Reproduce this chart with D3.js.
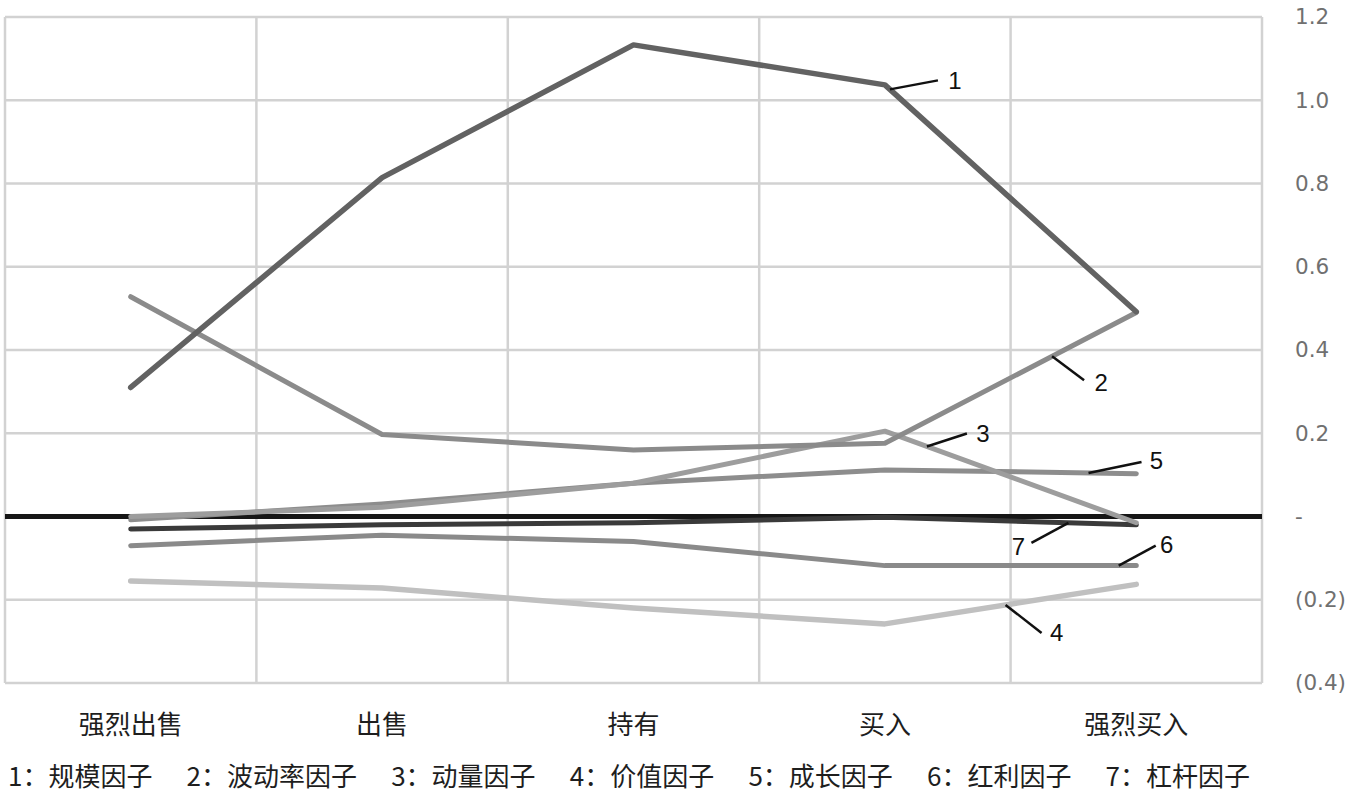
<!DOCTYPE html>
<html>
<head>
<meta charset="utf-8">
<script src="https://cdn.jsdelivr.net/npm/d3@7"></script>
<style>
  html, body { margin: 0; padding: 0; background: #ffffff; }
  svg { display: block; }
</style>
</head>
<body>
<svg id="chart" width="1352" height="792"></svg>
<script>
// ---- data ----
const categories = ["强烈出售", "出售", "持有", "买入", "强烈买入"];
const seriesNames = ["规模因子", "波动率因子", "动量因子", "价值因子", "成长因子", "红利因子", "杠杆因子"];
const sizeFactor       = [0.31, 0.814, 1.133, 1.037, 0.492];
const volatilityFactor = [0.528, 0.197, 0.160, 0.176, 0.490];
const momentumFactor   = [0.00, 0.022, 0.080, 0.205, -0.015];
const valueFactor      = [-0.155, -0.172, -0.220, -0.258, -0.163];
const growthFactor     = [-0.008, 0.030, 0.080, 0.112, 0.103];
const dividendFactor   = [-0.070, -0.045, -0.060, -0.118, -0.118];
const leverageFactor   = [-0.030, -0.020, -0.015, -0.002, -0.020];
const yTicks = [-0.4, -0.2, 0, 0.2, 0.4, 0.6, 0.8, 1.0, 1.2];

const seriesValues = [sizeFactor, volatilityFactor, momentumFactor, valueFactor, growthFactor, dividendFactor, leverageFactor];

// ---- styling ----
const colors = ["#626262", "#8b8b8b", "#9d9d9d", "#c0c0c0", "#8d8d8d", "#8a8a8a", "#3a3a3a"];
const widths = [5.5, 5, 5, 5.5, 5, 5, 5];
// annotation: series index, position along category index, leader offset, label offset
const annotations = [
  {s: 0, t: 3.02, dx: 48, dy: -9,  lx: 17, ly: 0},
  {s: 1, t: 3.665, dx: 32, dy: 24, lx: 17, ly: 2},
  {s: 2, t: 3.167, dx: 40, dy: -13, lx: 16, ly: 0},
  {s: 4, t: 3.81, dx: 53, dy: -11, lx: 15, ly: -1},
  {s: 6, t: 3.73, dx: -37, dy: 20, lx: -13, ly: 4},
  {s: 5, t: 3.93, dx: 37, dy: -20, lx: 11, ly: -1},
  {s: 3, t: 3.48, dx: 36, dy: 28, lx: 15, ly: 0}
];

const svg = d3.select("#chart");
const plotLeft = 5, plotRight = 1262, plotTop = 17, plotBottom = 683;

const x = d3.scaleBand().domain(categories).range([plotLeft, plotRight]).padding(0);
const y = d3.scaleLinear().domain([-0.4, 1.2]).range([plotBottom, plotTop]);
const cx = c => x(c) + x.bandwidth() / 2;

// gridlines
const grid = svg.append("g");
grid.selectAll("line.h").data(yTicks).join("line")
  .attr("class", "h")
  .attr("x1", plotLeft).attr("x2", plotRight)
  .attr("y1", d => y(d)).attr("y2", d => y(d))
  .attr("stroke", "#d2d2d2").attr("stroke-width", 2.5);
const vb = categories.map(c => x(c)).concat([plotRight]);
grid.selectAll("line.v").data(vb).join("line")
  .attr("class", "v")
  .attr("x1", d => d).attr("x2", d => d)
  .attr("y1", plotTop).attr("y2", plotBottom)
  .attr("stroke", "#d2d2d2").attr("stroke-width", 2.5);

// zero line
svg.append("line")
  .attr("x1", plotLeft).attr("x2", plotRight)
  .attr("y1", y(0)).attr("y2", y(0))
  .attr("stroke", "#161616").attr("stroke-width", 5);

// series
const line = d3.line().x((d, i) => cx(categories[i])).y(d => y(d));
const order = [3, 5, 6, 4, 2, 1, 0];
svg.append("g").selectAll("path").data(order).join("path")
  .attr("d", i => line(seriesValues[i]))
  .attr("fill", "none")
  .attr("stroke", i => colors[i])
  .attr("stroke-width", i => widths[i])
  .attr("stroke-linecap", "round")
  .attr("stroke-linejoin", "round");

// annotations
function pointAt(s, t) {
  const i = Math.floor(t), f = t - i;
  const v = seriesValues[s];
  const x0 = cx(categories[i]), x1 = cx(categories[i + 1]);
  return [x0 + (x1 - x0) * f, y(v[i] + (v[i + 1] - v[i]) * f)];
}
const ann = svg.append("g");
annotations.forEach(a => {
  const [px, py] = pointAt(a.s, a.t);
  ann.append("line")
    .attr("x1", px).attr("y1", py)
    .attr("x2", px + a.dx).attr("y2", py + a.dy)
    .attr("stroke", "#111").attr("stroke-width", 2.5);
  ann.append("text")
    .attr("x", px + a.dx + a.lx).attr("y", py + a.dy + a.ly)
    .attr("text-anchor", "middle")
    .attr("dominant-baseline", "central")
    .attr("font-family", "Liberation Sans, Arial, sans-serif")
    .attr("font-size", 24)
    .attr("fill", "#111")
    .text(String(a.s + 1));
});

// right axis
const fmt = v => {
  if (Math.abs(v) < 1e-9) return "-";
  const s = Math.abs(v).toFixed(1);
  return v < 0 ? "(" + s + ")" : s;
};
const yAxis = svg.append("g")
  .attr("transform", `translate(${1292},0)`)
  .call(d3.axisRight(y).tickValues(yTicks).tickFormat(fmt).tickSize(0).tickPadding(3));
yAxis.select(".domain").remove();
yAxis.selectAll("text")
  .attr("font-family", "'DejaVu Sans', sans-serif")
  .attr("font-size", 21.5)
  .attr("fill", "#707070");

// bottom axis
const xAxis = svg.append("g")
  .attr("transform", `translate(0,${plotBottom})`)
  .call(d3.axisBottom(x).tickSize(0).tickPadding(39));
xAxis.select(".domain").remove();
xAxis.selectAll("text")
  .attr("dy", 0)
  .attr("dominant-baseline", "central")
  .attr("font-family", "'Noto Sans CJK SC', sans-serif")
  .attr("font-size", 26)
  .attr("fill", "#1e1e1e");

// legend: items laid out left to right with even gaps
const legendFont = 26, legendStart = 8, legendEnd = 1250;
const legendG = svg.append("g");
const items = legendG.selectAll("text").data(seriesNames).join("text")
  .attr("y", 774.5)
  .attr("dominant-baseline", "central")
  .attr("font-family", "'Noto Sans CJK SC', sans-serif")
  .attr("font-size", legendFont)
  .attr("fill", "#1e1e1e")
  .text((d, i) => (i + 1) + "：" + d);
const lens = items.nodes().map(n => n.getComputedTextLength());
const gap = (legendEnd - legendStart - d3.sum(lens)) / (lens.length - 1);
let cur = legendStart;
items.each(function(d, i) {
  d3.select(this).attr("x", cur);
  cur += lens[i] + gap;
});
</script>
</body>
</html>
